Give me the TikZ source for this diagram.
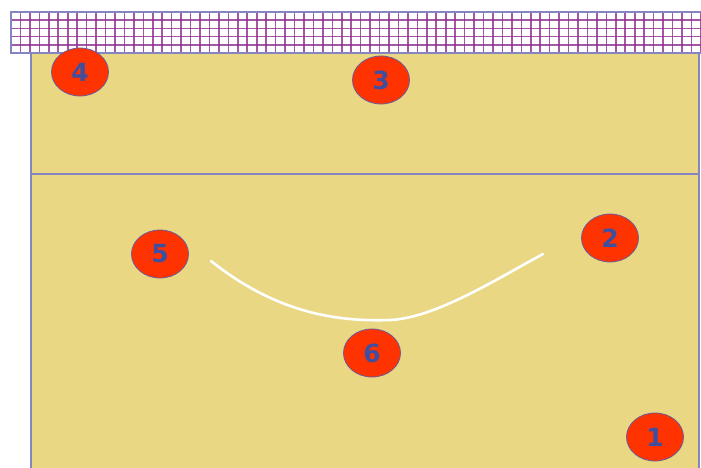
\documentclass[tikz,border=0pt]{standalone}
\usepackage{fontspec}
\setmainfont{DejaVu Sans}[BoldFont={DejaVu Sans Bold}]
\definecolor{court}{HTML}{E9D783}
\definecolor{courtline}{HTML}{8585C2}
\definecolor{netline}{HTML}{8E2E8E}
\definecolor{player}{HTML}{FF3300}
\definecolor{playerborder}{HTML}{6A5A9A}
\definecolor{digit}{HTML}{3F4FA0}
\tikzset{
  player/.style={ellipse, fill=player, draw=playerborder, line width=0.8pt,
    minimum width=57pt, minimum height=48pt, inner sep=0pt,
    text=digit, font=\fontsize{25}{25}\selectfont\bfseries},
  lineline/.style={draw=courtline, line width=1.2pt},
  netstroke/.style={draw=netline, line width=1.6pt, opacity=0.8},
  arcline/.style={draw=white, line width=2.6pt, line cap=round}
}
\usetikzlibrary{shapes.geometric}
\begin{document}
\begin{tikzpicture}[x=1pt,y=-1pt]
\useasboundingbox (0,0) rectangle (701,468);
\fill[white] (0,0) rectangle (701,468);
% court
\fill[court] (31,53) rectangle (699,470);
\draw[lineline] (31,470) -- (31,53) -- (699,53) -- (699,470);
\draw[lineline] (31,174) -- (699,174);
% net
\fill[white] (11,12) rectangle (701,53);
\foreach \i in {1,...,73} {
  \draw[netstroke] ({11+9.45*\i},12) -- ({11+9.45*\i},53);
}
\foreach \j in {1,...,4} {
  \draw[netstroke] (11,{12+8.2*\j}) -- (701,{12+8.2*\j});
}
\draw[lineline] (701,12) -- (11,12) -- (11,53) -- (701,53);
% arc
\coordinate (a1) at (211,261);
\coordinate (a2) at (390,320);
\coordinate (a3) at (543,254);
\draw[arcline] (a1) .. controls (275,312) and (335,322) .. (a2)
  .. controls (435,318) and (495,280) .. (a3);
% players
\node[player] (p4) at (80,72) {4};
\node[player] (p3) at (381,80) {3};
\node[player] (p5) at (160,254) {5};
\node[player] (p2) at (610,238) {2};
\node[player] (p6) at (372,353) {6};
\node[player] (p1) at (655,437) {1};
\end{tikzpicture}
\end{document}
